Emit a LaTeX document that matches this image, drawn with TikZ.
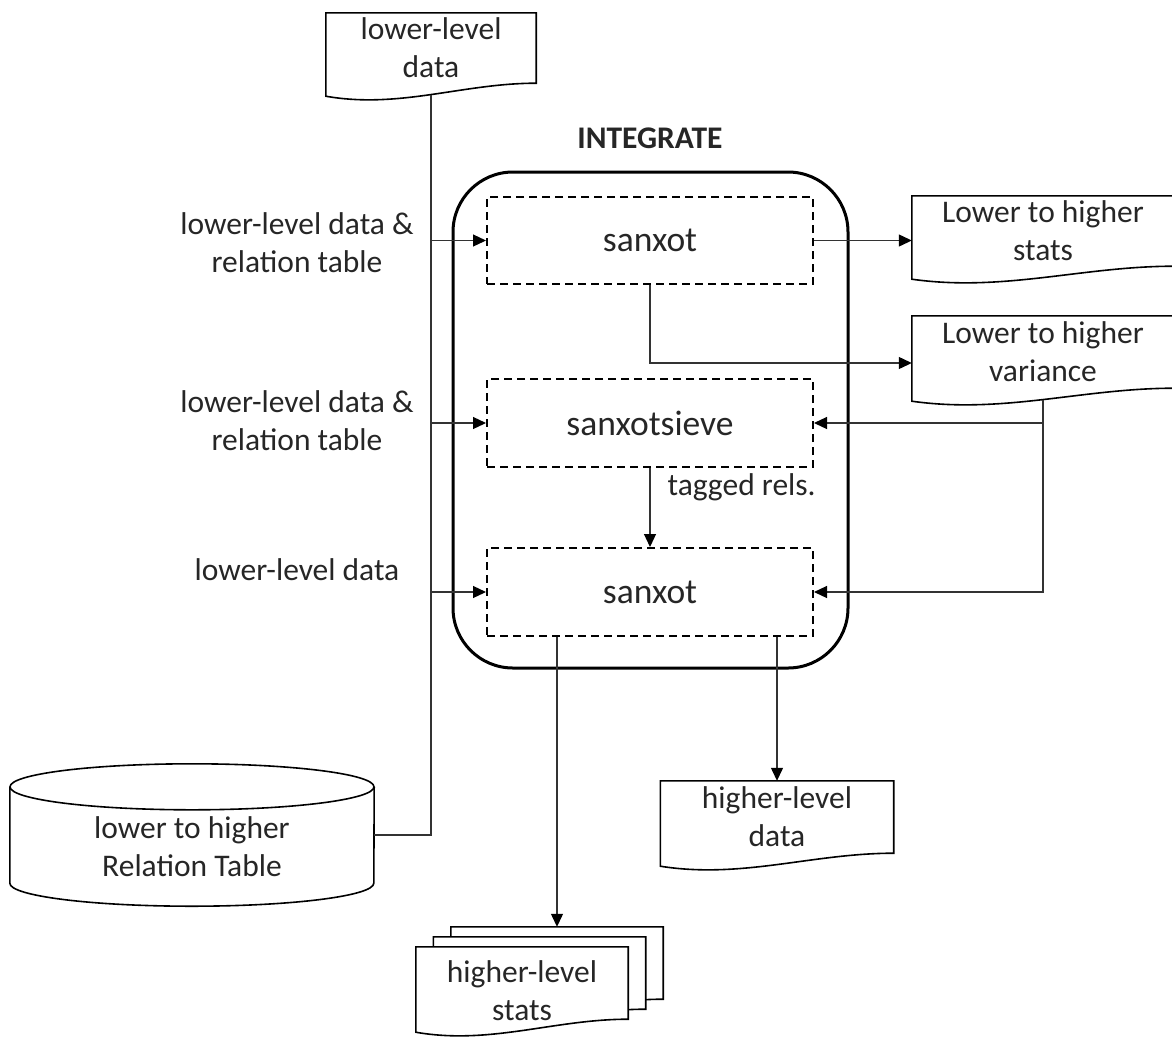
\documentclass[tikz,border=0pt]{standalone}
\usepackage{fontspec}
\setmainfont{Carlito}
\usetikzlibrary{calc,arrows.meta}
\def\docshape[#1](#2){\draw[docline,#1] ($(#2.south west)+(0,13)$) -- (#2.north west) -- (#2.north east) -- (#2.south east) .. controls ($(#2.south west)!0.65!(#2.south east)$) and ($(#2.south west)!0.35!(#2.south east)+(0,26)$) .. ($(#2.south west)+(0,13)$) -- cycle;}

\begin{document}
\begin{tikzpicture}[x=1pt,y=-1pt,
	every node/.style={font=\fontsize{31.5}{38}\selectfont, text=black!85, align=center, inner sep=0pt},
	conn/.style={line width=1.2pt, draw=black!80},
	arr/.style={conn, -{Triangle[length=13pt,width=12pt,color=black,fill=black]}},
	docline/.style={line width=1.6pt, draw=black},
	procbox/.style={draw=black, line width=2pt, dash pattern=on 8pt off 5pt, minimum width=326pt, minimum height=88pt, font=\fontsize{35.5}{43}\selectfont}]
			%%%%% START %%%%%
			\useasboundingbox (0,0) rectangle (1172,1037);
			
			\node[minimum width=210pt, minimum height=70pt] (lld) at (431,48) {lower-level\\data};
			\node[font=\fontsize{31.5}{38}\selectfont\bfseries] (ttl) at (650,138) {INTEGRATE};
			\node[draw=black, line width=3pt, rounded corners=60pt, minimum width=395pt, minimum height=496pt] (integ) at (650.5,420) {};
			
			\node[procbox, minimum height=87pt] (bx1) at (650,240.5) {sanxot};
			\node[procbox] (bx2) at (650,423) {sanxotsieve};
			\node[procbox] (bx3) at (650,592) {sanxot};
			
			\node (lab1) at (297,243) {lower-level data \&\\relation table};
			\node (lab2) at (297,421) {lower-level data \&\\relation table};
			\node (lab3) at (297,570) {lower-level data};
			
			\node[minimum width=262pt, minimum height=70pt] (lhs) at (1043,231) {Lower to higher\\stats};
			\node[minimum width=262pt, minimum height=72pt] (lhv) at (1043,352) {Lower to higher\\variance};
			\node[minimum width=233pt, minimum height=72pt] (hld) at (777,817) {higher-level\\data};
			\node[minimum width=364pt, minimum height=96pt, label={[yshift=-12pt]center:lower to higher\\Relation Table}] (rt) at (192,835) {};
			
			\node[minimum width=212pt, minimum height=72pt] (hls3) at (557,963) {};
			\node[minimum width=212pt, minimum height=72pt] (hls2) at (539.5,973) {};
			\node[minimum width=212pt, minimum height=72pt] (hls1) at (522,983) {};
			
			% documents and the database
			\docshape[](lld)
			\docshape[](lhs)
			\docshape[](lhv)
			\docshape[](hld)
			\docshape[fill=white](hls3)
			\docshape[fill=white](hls2)
			\docshape[fill=white](hls1)
			\node (hlstxt) at ($(hls1)+(0,8)$) {higher-level\\stats};
			\draw[docline] (rt.north west) -- (rt.south west) arc[start angle=180, end angle=360, x radius=182pt, y radius=23pt] -- (rt.north east);
			\draw[docline] (rt.north) ellipse [x radius=182pt, y radius=23pt];
			
			% connectors
			\draw[conn] (rt.east) -| ($(lld.south)+(0,12)$);
			\draw[arr] (lld.south |- bx1.west) -- (bx1.west);
			\draw[arr] (lld.south |- bx2.west) -- (bx2.west);
			\draw[arr] (lld.south |- bx3.west) -- (bx3.west);
			
			\draw[arr] (bx1.east) -- (bx1.east -| lhs.west);
			\draw[arr] (bx1.south) |- ($(lhv.west)+(0,11)$);
			\draw[arr] ($(lhv.south)+(0,12)$) |- (bx2.east);
			\draw[arr] ($(lhv.south)+(0,12)$) |- (bx3.east);
			
			\draw[arr] (bx2.south) -- node[pos=0.25, anchor=west, xshift=17pt] (tag) {tagged rels.} (bx3.north);
			
			\draw[arr] (bx3.south -| hls3.north) -- (hls3.north);
			\draw[arr] (bx3.south -| hld.north) -- (hld.north);
			
			%%%%% END %%%%%
\end{tikzpicture}
\end{document}
